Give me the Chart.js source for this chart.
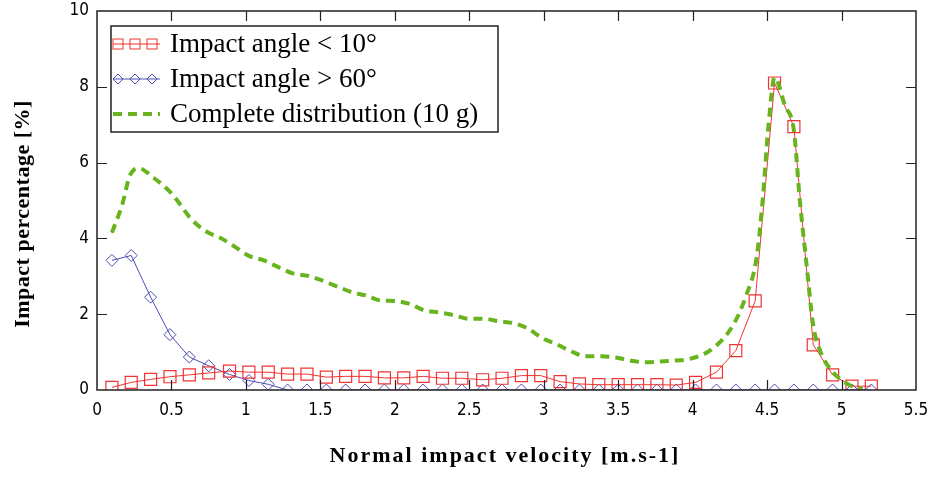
<!DOCTYPE html>
<html><head><meta charset="utf-8">
<script src="https://cdn.jsdelivr.net/npm/chart.js@4/dist/chart.umd.min.js"></script>
<style>html,body{margin:0;padding:0;background:#fff}#wrap{width:933px;height:482px}</style>
</head><body><div id="wrap"><canvas id="c" width="933" height="482"></canvas></div>
<script>
const velocities = [0.10,0.23,0.36,0.49,0.62,0.75,0.89,1.02,1.15,1.28,1.41,1.54,1.67,1.80,1.93,2.06,2.19,2.32,2.45,2.59,2.72,2.85,2.98,3.11,3.24,3.37,3.50,3.63,3.76,3.89,4.02,4.16,4.29,4.42,4.55,4.68,4.81,4.94,5.07,5.20];
const angleBelow10 = [0.07,0.2,0.28,0.35,0.4,0.45,0.5,0.47,0.47,0.42,0.42,0.34,0.36,0.36,0.32,0.32,0.36,0.31,0.31,0.27,0.31,0.38,0.38,0.22,0.16,0.14,0.14,0.14,0.14,0.13,0.2,0.47,1.04,2.35,8.1,6.95,1.19,0.4,0.1,0.1];
const angleAbove60 = [3.42,3.55,2.45,1.46,0.87,0.64,0.41,0.25,0.15,0,0,0,0,0,0,0,0,0,0,0,0,0,0,0,0,0,0,0,0,0,0,0,0,0,0,0,0,0,0,0];
const completeX = [0.10,0.17,0.22,0.28,0.38,0.50,0.64,0.74,0.83,0.93,1.02,1.12,1.23,1.32,1.42,1.51,1.62,1.72,1.81,1.91,2.00,2.10,2.20,2.29,2.40,2.50,2.60,2.70,2.79,2.89,2.99,3.08,3.19,3.28,3.38,3.48,3.58,3.68,3.78,3.88,3.98,4.13,4.27,4.36,4.43,4.47,4.51,4.55,4.62,4.68,4.72,4.76,4.81,4.86,4.94,5.04,5.14];
const completeY = [4.15,4.9,5.65,5.85,5.6,5.19,4.48,4.17,4.01,3.77,3.54,3.42,3.22,3.07,3.01,2.89,2.72,2.57,2.49,2.36,2.35,2.27,2.10,2.05,1.97,1.88,1.88,1.81,1.77,1.63,1.37,1.22,1.01,0.89,0.89,0.86,0.78,0.73,0.75,0.78,0.82,1.08,1.7,2.5,3.5,5.0,7.0,8.25,7.5,6.85,5.0,3.5,1.7,1.0,0.48,0.16,0.02];
const seriesLabels = ['Impact angle < 10°','Impact angle > 60°','Complete distribution (10 g)'];
const xTitle = 'Normal impact velocity [m.s-1]';
const yTitle = 'Impact percentage [%]';

const RED = '#f03434', BLUE = '#4c4cb6', GREEN = '#68b41e';
const tickFont = {family:'"Liberation Sans Narrow","DejaVu Sans Condensed",sans-serif', size:17};

const frame = {
  id:'frame',
  afterDraw(chart){
    const {ctx, chartArea:a, scales:{x,y}} = chart;
    ctx.save();
    ctx.strokeStyle = '#222'; ctx.lineWidth = 1.5;
    ctx.strokeRect(a.left, a.top, a.right-a.left, a.bottom-a.top);
    ctx.lineWidth = 1.2;
    ctx.beginPath();
    x.ticks.forEach(t=>{
      const px = Math.round(x.getPixelForValue(t.value))+0.5;
      if (px<=a.left+1 || px>=a.right-1) return;
      ctx.moveTo(px,a.bottom); ctx.lineTo(px,a.bottom-10);
      ctx.moveTo(px,a.top); ctx.lineTo(px,a.top+10);
    });
    y.ticks.forEach(t=>{
      const py = Math.round(y.getPixelForValue(t.value))+0.5;
      if (py<=a.top+1 || py>=a.bottom-1) return;
      ctx.moveTo(a.left,py); ctx.lineTo(a.left+10,py);
      ctx.moveTo(a.right,py); ctx.lineTo(a.right-10,py);
    });
    ctx.stroke();
    // axis titles
    ctx.fillStyle='#000';
    ctx.font='bold 22px "Liberation Serif"';
    ctx.textAlign='center'; ctx.textBaseline='middle';
    ctx.letterSpacing='2px';
    ctx.fillText(xTitle, 505, 456);
    ctx.letterSpacing='0.5px';
    ctx.save(); ctx.translate(23,214); ctx.rotate(-Math.PI/2);
    ctx.fillText(yTitle, 0, 0); ctx.restore();
    ctx.letterSpacing='0px';
    // legend
    const L=111,T=26,W=387,H=106;
    ctx.fillStyle='#fff'; ctx.fillRect(L,T,W,H);
    ctx.strokeStyle='#222'; ctx.lineWidth=1.5; ctx.strokeRect(L,T,W,H);
    const rows=[44,79,114];
    chart.data.datasets.forEach((ds,i)=>{
      const yy=rows[i];
      ctx.strokeStyle=ds.borderColor; ctx.lineWidth=ds.borderWidth;
      ctx.setLineDash(ds.borderDash||[]);
      ctx.beginPath(); ctx.moveTo(113,yy); ctx.lineTo(160,yy); ctx.stroke();
      ctx.setLineDash([]);
      ctx.lineWidth=1;
      [118,135,152].forEach(px=>{
        if (ds.pointStyle==='rect'){ ctx.strokeRect(px-5,yy-5,10,10); }
        else if (ds.pointStyle==='rectRot'){
          ctx.beginPath(); ctx.moveTo(px,yy-5); ctx.lineTo(px+5,yy); ctx.lineTo(px,yy+5); ctx.lineTo(px-5,yy); ctx.closePath(); ctx.stroke();
        }
      });
      ctx.fillStyle='#000'; ctx.font='27px "Liberation Serif"'; ctx.textBaseline='middle'; ctx.textAlign='left';
      ctx.fillText(ds.label,170,yy+1);
    });
    ctx.restore();
  }
};

new Chart(document.getElementById('c'), {
  type:'line',
  data:{
    datasets:[
      {label:seriesLabels[0], data:velocities.map((v,i)=>({x:v,y:angleBelow10[i]})), borderColor:RED, borderWidth:1, pointStyle:'rect', pointRadius:8.5, pointBorderColor:RED, pointBackgroundColor:'rgba(0,0,0,0)', pointBorderWidth:1.2, tension:0, order:1},
      {label:seriesLabels[1], data:velocities.map((v,i)=>({x:v,y:angleAbove60[i]})), borderColor:BLUE, borderWidth:1, pointStyle:'rectRot', pointRadius:6, pointBorderColor:BLUE, pointBackgroundColor:'rgba(0,0,0,0)', pointBorderWidth:1, tension:0, order:2},
      {label:seriesLabels[2], data:completeX.map((v,i)=>({x:v,y:completeY[i]})), borderColor:GREEN, borderWidth:4, borderDash:[9,6], pointRadius:0, pointStyle:false, cubicInterpolationMode:'monotone', order:0}
    ]
  },
  options:{
    responsive:false, animation:false, devicePixelRatio:1,
    layout:{padding:{left:0,right:17,top:11,bottom:0}},
    plugins:{legend:{display:false}, tooltip:{enabled:false}},
    scales:{
      x:{type:'linear', min:0, max:5.5,
        ticks:{stepSize:0.5, color:'#000', font:tickFont, padding:10, maxRotation:0, callback:v=>String(v)},
        grid:{display:false, drawTicks:false}, border:{display:false},
        afterFit(s){ s.height = 92; s.paddingLeft = 0; s.paddingRight = 0; }
      },
      y:{min:0, max:10,
        ticks:{stepSize:2, color:'#000', font:tickFont, padding:8, callback:v=>String(v)},
        grid:{display:false, drawTicks:false}, border:{display:false},
        afterFit(s){ s.width = 97; s.paddingTop = 0; s.paddingBottom = 0; }
      }
    }
  },
  plugins:[frame]
});
</script></body></html>
